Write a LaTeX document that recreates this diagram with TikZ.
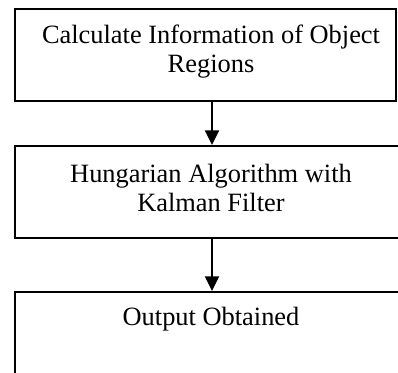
\documentclass[tikz,border=0pt]{standalone}
\usepackage{fontspec}
\setmainfont{Liberation Serif}
\usetikzlibrary{arrows.meta}
\begin{document}
\begin{tikzpicture}[x=0.75pt,y=-0.75pt,
  boxst/.style={draw=black,line width=1.5pt,inner sep=0pt,rectangle},
  txt/.style={inner sep=0pt,align=center,font=\fontsize{19.8}{21.75}\selectfont},
  conn/.style={line width=1.6pt,-{Triangle[width=10.5pt,length=11pt]}}]
\useasboundingbox (0,0) rectangle (398,373);
\clip (0,0) rectangle (398,373);
\node[boxst,minimum width=285.75pt,minimum height=69pt] (b1) at (205.5,55) {};
\node[boxst,minimum width=290.25pt,minimum height=69pt] (b2) at (208.5,192) {};
\node[boxst,minimum width=290.25pt,minimum height=69pt] (b3) at (208.5,338) {};
\node[txt] (t1) at (211,51.4) {Calculate Information of Object\\Regions};
\node[txt] (t2) at (211,188) {Hungarian Algorithm with\\Kalman Filter};
\node[txt,anchor=base] (t3) at (211,325) {Output Obtained};
\draw[conn] (b1.south -| t1.center) ++(1,0) coordinate (a1) -- (a1 |- b2.north);
\draw[conn] (b2.south -| t1.center) ++(1,0) coordinate (a2) -- (a2 |- b3.north);
\end{tikzpicture}
\end{document}
